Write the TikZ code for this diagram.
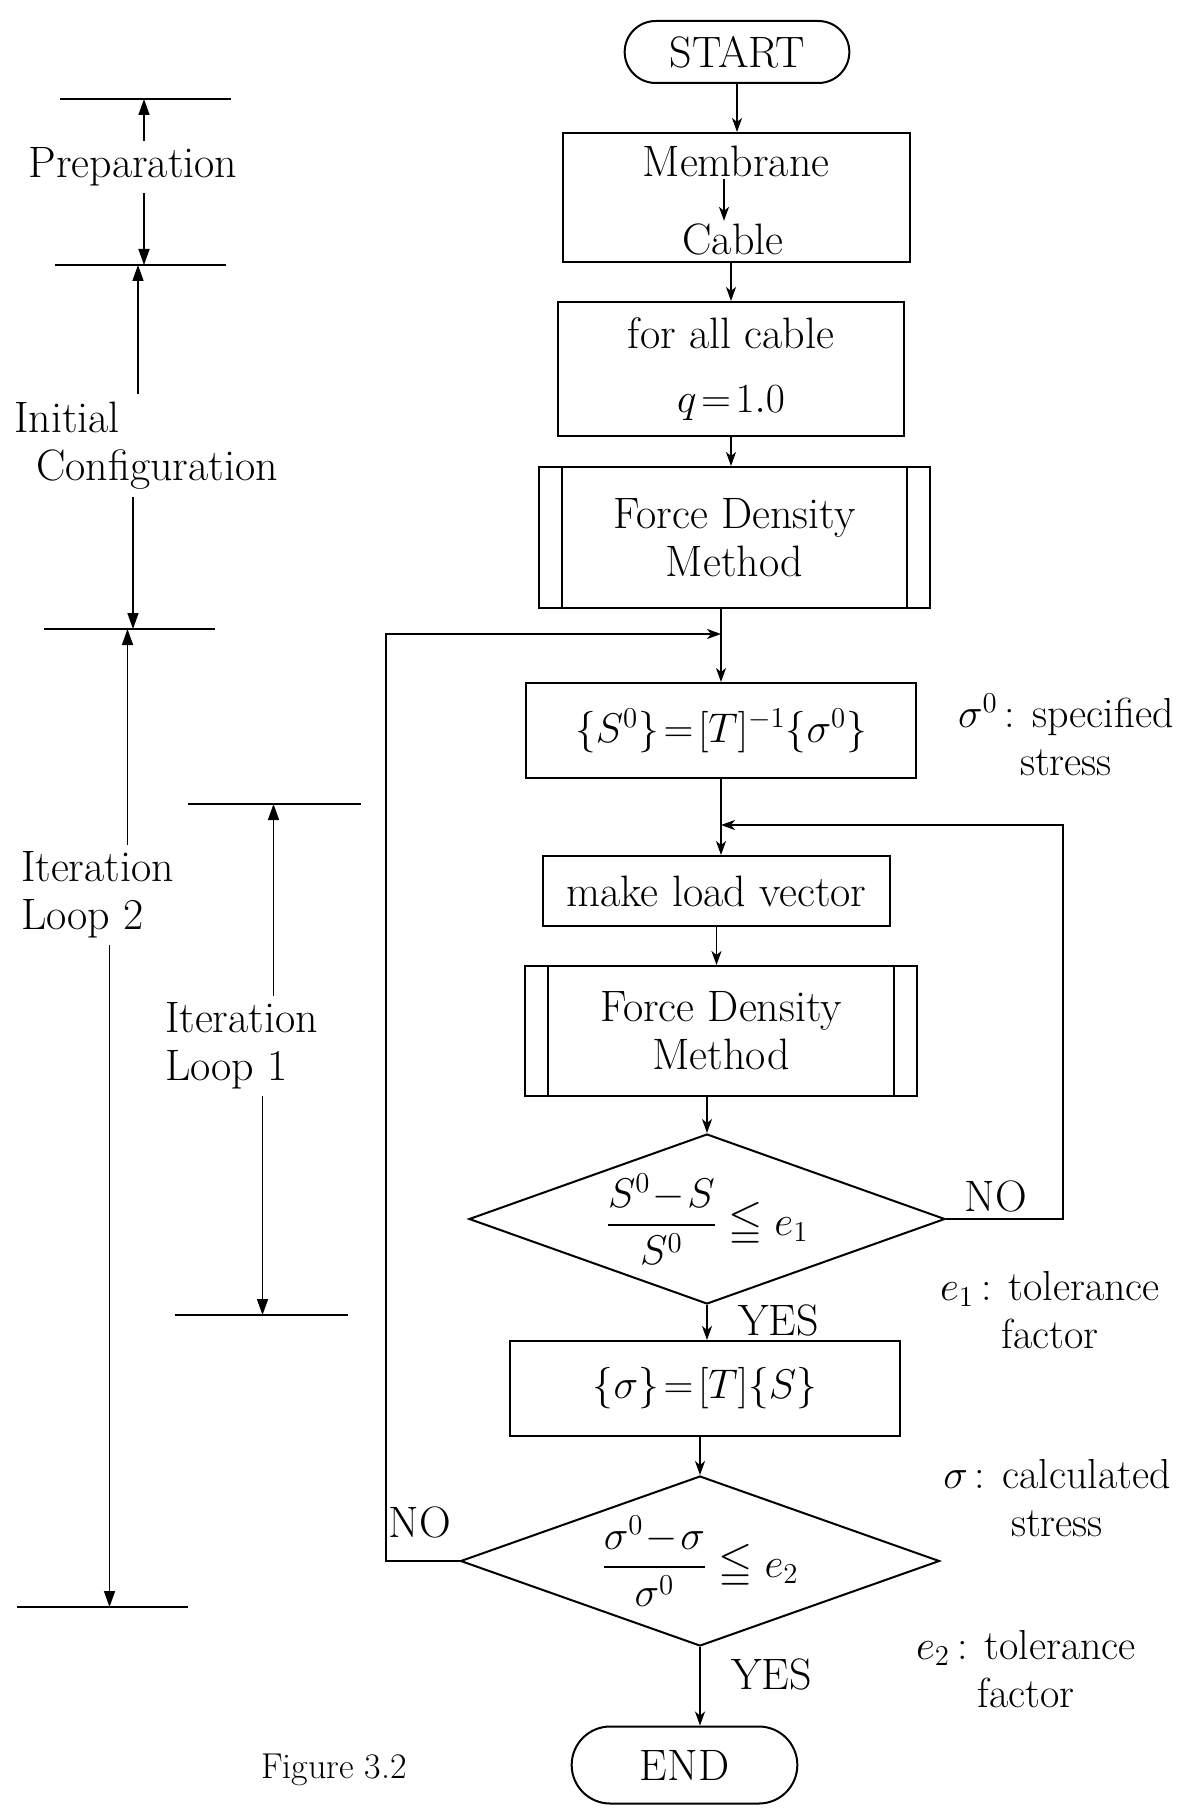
\documentclass[tikz,border=0pt]{standalone}
\usepackage{amsmath}
\usepackage{amssymb}
\usetikzlibrary{arrows.meta,shapes,positioning,calc}

\begin{document}
\begin{tikzpicture}[x=0.5pt, y=-0.5pt,
    font=\fontsize{22}{24}\selectfont,
    box/.style={draw, line width=1pt, rectangle, align=center},
    term/.style={draw, line width=1pt, rounded rectangle},
    predef/.style={box, path picture={
        \draw[line width=1pt] ([xshift=11.5pt]path picture bounding box.north west) -- ([xshift=11.5pt]path picture bounding box.south west)
              ([xshift=-11.5pt]path picture bounding box.north east) -- ([xshift=-11.5pt]path picture bounding box.south east);}},
    decide/.style={draw, line width=1pt, diamond, aspect=2.8, inner sep=0pt},
    flow/.style={line width=0.8pt, -{Stealth[length=7pt,width=5pt,inset=2pt]}},
    dim/.style={line width=0.8pt, -{Triangle[length=8pt,width=5.5pt]}},
    dimline/.style={line width=0.8pt},
    note/.style={align=center, font=\fontsize{21}{24}\selectfont}
]
\useasboundingbox (0,0) rectangle (1181,1808);

% main chain
\node[term, minimum width=119pt, minimum height=31pt] (start) at (737,52) {START};
\node[box, minimum width=173.5pt, minimum height=64.5pt] (memb) at (736.5,197.5) {};
\node[inner sep=1pt] (membtxt) at (736,161) {Membrane};
\node[inner sep=1pt] (cabletxt) at (733,239) {Cable};
\node[box, minimum width=173pt, minimum height=67pt] (forall) at (731,369) {for all cable\\[8pt] $q\!=\!1.0$};
\node[predef, minimum width=195.5pt, minimum height=70.5pt] (fdm1) at (734.5,537.5) {Force Density\\Method};
\node[box, minimum width=195pt, minimum height=47.5pt] (s0) at (721,730.5) {$\{S^0\}\!=\![T]^{-1}\{\sigma^0\}$};
\node[box, minimum width=173.5pt, minimum height=35pt] (load) at (716.5,891) {make load vector};
\node[predef, minimum width=196pt, minimum height=65pt] (fdm2) at (721,1031) {Force Density\\Method};
\node[decide, minimum width=238pt, minimum height=85pt] (dia1) at (707,1219) {$\dfrac{S^0\!-\!S}{S^0}\leqq e_1$};
\node[box, minimum width=195pt, minimum height=47.5pt] (sig) at (705,1388.5) {$\{\sigma\}\!=\![T]\{S\}$};
\node[decide, minimum width=239.5pt, minimum height=85pt] (dia2) at (700,1561) {$\dfrac{\sigma^0\!-\!\sigma}{\sigma^0}\leqq e_2$};
\node[term, minimum width=119.5pt, minimum height=38.5pt] (stop) at (684.5,1765) {END};

\draw[flow] (start) -- (start |- memb.north);
\draw[flow] ([xshift=-6pt]membtxt.south) -- ([xshift=-6pt]membtxt.south |- cabletxt.north);
\draw[flow] (memb.south -| forall) -- (forall);
\draw[flow] (forall) -- (forall |- fdm1.north);
\draw[flow] (fdm1.south -| s0) -- (s0);
\draw[flow] (s0) -- (s0 |- load.north);
\draw[flow] (load) -- (load |- fdm2.north);
\draw[flow] (fdm2.south -| dia1) -- (dia1);
\draw[flow] (dia1) -- node[right=12pt, pos=0.45] {YES} (dia1 |- sig.north);
\draw[flow] (sig.south -| dia2) -- (dia2);
\draw[flow] (dia2) -- node[right=12pt, pos=0.35] {YES} (dia2 |- stop.north);

% loops back
\coordinate (back1) at (1063,825);
\coordinate (back2) at (386,634);
\draw[flow] (dia1.east) -| (back1) -- (back1 -| s0);
\draw[flow] (dia2.west) -| (back2) -- (back2 -| s0);
\node (no1) at (996,1196) {NO};
\node (no2) at (420,1522) {NO};

% notes on the right
\node[note] (n1) at (1066,735) {$\sigma^0$\,: specified\\stress};
\node[note] (n2) at (1050,1310) {$e_1$\,: tolerance\\factor};
\node[note] (n3) at (1057,1498) {$\sigma$\,: calculated\\stress};
\node[note] (n4) at (1026,1669) {$e_2$\,: tolerance\\factor};

% phases on the left
\coordinate (h1) at (60,99);
\coordinate (h2) at (55,265);
\coordinate (h3) at (44,629);
\coordinate (h4) at (17,1607);
\coordinate (h5) at (188,804);
\coordinate (h6) at (175,1315);
\draw[dimline] (h1) -- ++(171,0);
\draw[dimline] (h2) -- ++(171,0);
\draw[dimline] (h3) -- ++(171,0);
\draw[dimline] (h4) -- ++(171,0);
\draw[dimline] (h5) -- ++(173,0);
\draw[dimline] (h6) -- ++(173,0);

\node (prep) at (133,167) {Preparation};
\draw[dim] ([xshift=5.5pt]prep.north) -- ([xshift=5.5pt]prep.north |- h1);
\draw[dim] ([xshift=5.5pt]prep.south) -- ([xshift=5.5pt]prep.south |- h2);

\node (init) at (67,417) {Initial};
\node (config) at (157,470) {Configuration};
\draw[dim] ([xshift=35.5pt]init.north) -- ([xshift=35.5pt]init.north |- h2);
\draw[dim] ([xshift=-12pt]config.south) -- ([xshift=-12pt]config.south |- h3);

\node[align=left, anchor=west] (loop2) at (14,895) {Iteration\\Loop 2};
\draw[dim] ([xshift=15pt]loop2.north) -- ([xshift=15pt]loop2.north |- h3);
\draw[dim] ([xshift=6pt]loop2.south) -- ([xshift=6pt]loop2.south |- h4);

\node[align=left, anchor=west] (loop1) at (158,1046) {Iteration\\Loop 1};
\draw[dim] ([xshift=16pt]loop1.north) -- ([xshift=16pt]loop1.north |- h5);
\draw[dim] ([xshift=10.5pt]loop1.south) -- ([xshift=10.5pt]loop1.south |- h6);

\node[font=\fontsize{18}{20}\selectfont] (caption) at (334,1770) {Figure 3.2};
\end{tikzpicture}
\end{document}
